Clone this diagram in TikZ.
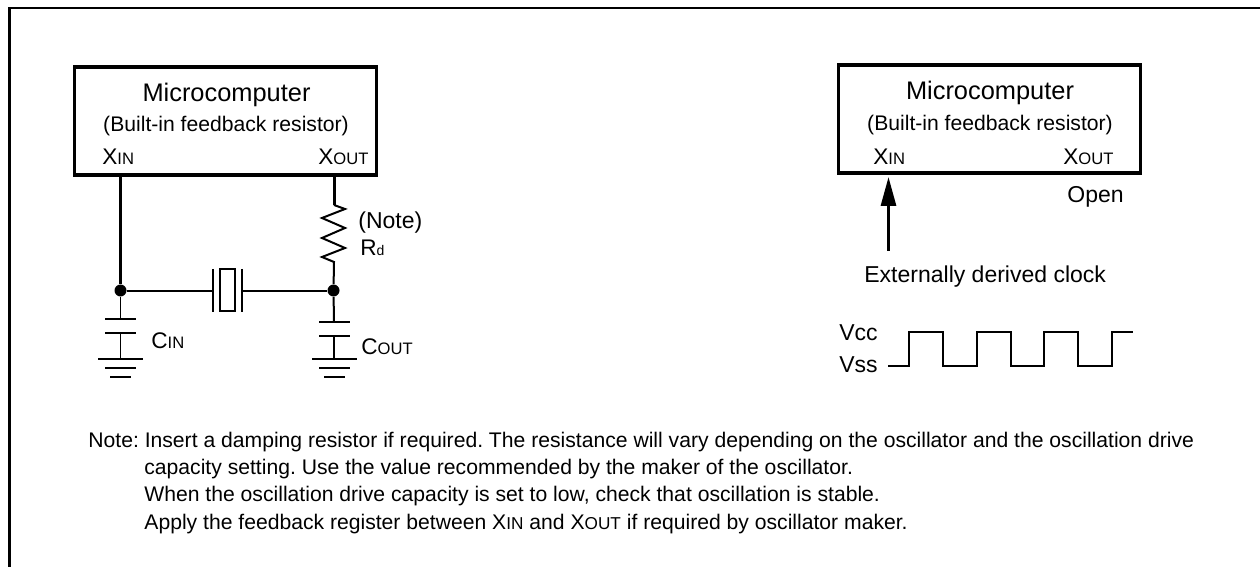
\documentclass[tikz,border=0pt]{standalone}
\usepackage{fontspec}
\setmainfont{Liberation Sans}
\usetikzlibrary{arrows.meta}
\tikzstyle{mcu} = [rectangle,
                   draw=black,
                   line width=1.6pt,
                   minimum width=151pt,
                   minimum height=54pt,
                   inner sep=0pt]
\tikzstyle{txt} = [inner sep=0pt, anchor=base west, font=\fontsize{10.57}{10.57}\selectfont\frenchspacing]
\tikzstyle{big txt} = [txt, font=\fontsize{11.5}{11.5}\selectfont]
\tikzstyle{title} = [inner sep=0pt, anchor=base, font=\fontsize{12.7}{12.7}\selectfont]
\tikzstyle{wire} = [line width=1pt]
\tikzstyle{heavy wire} = [line width=1.5pt]
\tikzstyle{thin wire} = [line width=0.8pt]
\tikzstyle{dot} = [circle, fill=black, inner sep=0pt, minimum size=6pt]
\newcommand{\pinname}[2]{{\fontsize{11.3}{11.3}\selectfont #1\fontsize{8.3}{8.3}\selectfont #2}}
\begin{document}
\begin{tikzpicture}[x=0.5pt,y=-0.5pt]
\useasboundingbox (0,0) rectangle (1260,567);
% frame
\coordinate (fa) at (9.5,567);
\coordinate (fb) at (9.5,8);
\coordinate (fc) at (1260,8);
\draw[line width=1.4pt] (fa) -- (fb) -- (fc);
% left box
\node (m1) [mcu] at (225.5,121) {};
\node (t1) [title] at (226.5,102) {Microcomputer};
\node (s1) [txt, anchor=base] at (226,132) {(Built-in feedback resistor)};
\node (xi1) [txt] at (102,165) {\pinname{X}{IN}};
\node (xo1) [txt] at (318,165) {\pinname{X}{OUT}};
% circuit
\node (j1) [dot] at (120.5,290.5) {};
\node (j2) [dot] at (333.5,290.5) {};
\coordinate (r1) at (334,205);
\coordinate (r2) at (334,262);
\draw[heavy wire] (j1 |- m1.south) -- (j1);
\draw[heavy wire] (r1 |- m1.south) -- (r1);
\draw[wire] (r1) -- (345,209) -- (322,218) -- (345,228) -- (322,238) -- (345,248) -- (322,257) -- (r2) -- (j2);
\node (note) [big txt] at (358,228) {(Note)};
\node (rd) [txt] at (360,256) {\pinname{R}{\fontsize{7}{7}\selectfont d}};
% crystal
\coordinate (q1) at (213,290.5);
\coordinate (q2) at (242,290.5);
\draw[wire] (j1) -- (q1);
\draw[wire] (q2) -- (j2);
\draw[thin wire] (213,269) -- (213,312);
\draw[thin wire] (242,269) -- (242,312);
\draw[thin wire] (220,269) rectangle (235,311);
% capacitors
\coordinate (c1) at (120.5,319);
\coordinate (c2) at (120.5,333);
\coordinate (g1) at (120.5,359);
\draw[thin wire] (j1) -- (c1);
\draw[thin wire] (c2) -- (g1);
\draw[wire] (105,319) -- (136,319);
\draw[wire] (105,333) -- (136,333);
\draw[wire] (98,359) -- (143,359);
\draw[wire] (105,368) -- (136,368);
\draw[wire] (110,377) -- (131,377);
\node (cin) [txt] at (151,349) {\pinname{C}{IN}};
\coordinate (c3) at (334,322);
\coordinate (c4) at (334,336);
\coordinate (g2) at (334,359);
\draw[wire] (j2) -- (c3);
\draw[wire] (c4) -- (g2);
\draw[wire] (319,322) -- (350,322);
\draw[wire] (319,336) -- (350,336);
\draw[wire] (312,359) -- (357,359);
\draw[wire] (319,368) -- (350,368);
\draw[wire] (324,377) -- (345,377);
\node (cout) [txt] at (361,354) {\pinname{C}{OUT}};
% right box
\node (m2) [mcu] at (989.5,119) {};
\node (t2) [title] at (990,100) {Microcomputer};
\node (s2) [txt, anchor=base] at (990,131) {(Built-in feedback resistor)};
\node (xi2) [txt] at (873,165) {\pinname{X}{IN}};
\node (xo2) [txt] at (1063,165) {\pinname{X}{OUT}};
\node (open) [big txt] at (1067,203) {Open};
\coordinate (a1) at (888.5,251);
\coordinate (a2) at (888.5,177);
\draw[heavy wire, -{Triangle[length=14.5pt,width=7.5pt]}] (a1) -- (a2);
\node (clk) [big txt] at (864,283) {Externally derived clock};
% waveform
\node (vcc) [big txt, anchor=base east] at (878,340) {Vcc};
\node (vss) [big txt, anchor=base east] at (878,372) {Vss};
\coordinate (w0) at (888,366);
\draw[thin wire] (w0) -- (909,366) -- (909,332) -- (943,332) -- (943,366) -- (977,366) -- (977,332) -- (1011,332) -- (1011,366) -- (1044,366) -- (1044,332) -- (1078,332) -- (1078,366) -- (1112,366) -- (1112,332) -- (1133,332);
% note
\node (n0) [txt] at (88,447) {Note: Insert a damping resistor if required. The resistance will vary depending on the oscillator and the oscillation drive};
\node (n1) [txt] at (144,474) {capacity setting. Use the value recommended by the maker of the oscillator.};
\node (n2) [txt] at (144,501) {When the oscillation drive capacity is set to low, check that oscillation is stable.};
\node (n3) [txt] at (144,529) {Apply the feedback register between X{\fontsize{8.6}{8.6}\selectfont IN} and X{\fontsize{8.6}{8.6}\selectfont OUT} if required by oscillator maker.};
\end{tikzpicture}
\end{document}
